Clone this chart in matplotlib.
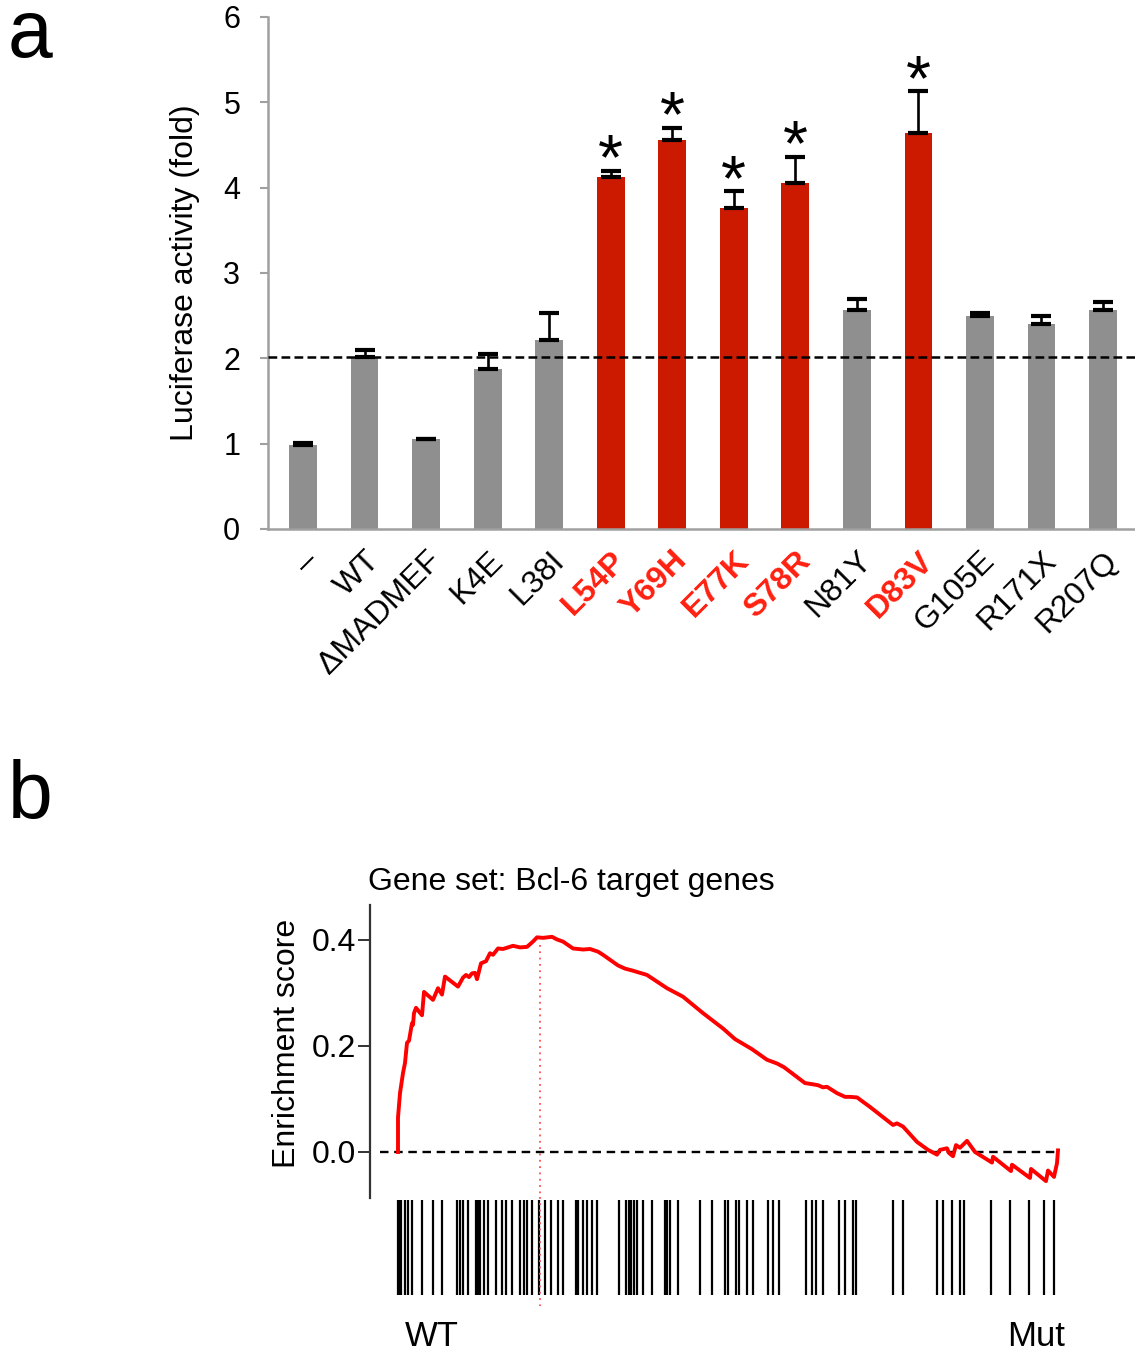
import matplotlib
matplotlib.use("Agg")
import matplotlib.pyplot as plt
import numpy as np

plt.rcParams['font.family'] = ['Liberation Sans', 'DejaVu Sans']

# ---------------- Panel a data ----------------
categories = ["\u2013", "WT", "\u0394MADMEF", "K4E", "L38I", "L54P", "Y69H", "E77K",
              "S78R", "N81Y", "D83V", "G105E", "R171X", "R207Q"]
luciferase = [0.99, 2.02, 1.05, 1.88, 2.21, 4.12, 4.56, 3.76, 4.05, 2.57, 4.64, 2.50, 2.40, 2.57]
error_top = [1.01, 2.10, 1.06, 2.05, 2.53, 4.20, 4.70, 3.96, 4.36, 2.70, 5.13, 2.53, 2.50, 2.66]
significant = [False, False, False, False, False, True, True, True, True, False, True, False, False, False]
wt_level = 2.02
yticks_a = [0, 1, 2, 3, 4, 5, 6]

# ---------------- Panel b data ----------------
es_rank = [0, 0, 2, 5, 7, 9, 11, 14, 15, 16, 18, 24, 26, 35, 40, 44, 47, 60, 65, 68,
           71, 74, 77, 79, 83, 88, 92, 95, 100, 105, 115, 122, 129, 135, 139, 145, 154, 159, 165, 175,
           185, 192, 200, 205, 220, 227, 235, 242, 249, 269, 285, 305, 325, 337, 354, 369, 379, 386, 407, 414,
           420, 425, 429, 439, 447, 452, 459, 472, 495, 499, 505, 519, 530, 539, 542, 549, 551, 555, 558, 562,
           569, 577, 594, 595, 613, 614, 632, 633, 648, 650, 656, 659, 660]
es_score = [0.000, 0.065, 0.111, 0.149, 0.168, 0.206, 0.210, 0.243, 0.240, 0.262,
            0.272, 0.258, 0.302, 0.287, 0.309, 0.297, 0.331, 0.312, 0.329, 0.334,
            0.330, 0.337, 0.338, 0.326, 0.356, 0.360, 0.375, 0.372, 0.384, 0.383,
            0.389, 0.386, 0.387, 0.397, 0.405, 0.404, 0.406, 0.401, 0.397, 0.384,
            0.382, 0.383, 0.378, 0.372, 0.352, 0.346, 0.342, 0.338, 0.334, 0.309,
            0.293, 0.262, 0.233, 0.213, 0.194, 0.174, 0.167, 0.160, 0.130, 0.128,
            0.126, 0.122, 0.123, 0.111, 0.104, 0.104, 0.103, 0.085, 0.051, 0.054,
            0.048, 0.019, 0.004, -0.005, 0.004, 0.007, -0.002, -0.008, 0.013, 0.008,
            0.021, 0.000, -0.020, -0.009, -0.036, -0.024, -0.049, -0.032, -0.055, -0.035,
            -0.047, -0.021, 0.003]
hit_rank = [0, 1, 3, 7, 10, 14, 24, 35, 44, 59, 62, 65, 70, 78, 80, 82, 86, 90, 98, 104,
            108, 114, 122, 126, 129, 134, 141, 147, 153, 160, 165, 178, 180, 185, 189, 194, 199,
            221, 228, 231, 233, 236, 239, 245, 254, 267, 269, 272, 280, 302, 314, 327, 330, 338,
            341, 349, 355, 370, 375, 381, 408, 414, 418, 425, 441, 447, 455, 458, 495, 505, 539,
            545, 554, 562, 566, 593, 612, 631, 646, 656]
peak_rank = 142
yticks_b = [0.0, 0.2, 0.4]
yticklabels_b = ["0.0", "0.2", "0.4"]

W, H = 1135, 1353
fig = plt.figure(figsize=(W / 100, H / 100), dpi=100)

GRAY = '#8f8f8f'
RED = '#cc1a00'
LABEL_RED = '#ff2010'
AX_GRAY = '#a0a0a0'

# ---------------- Panel a ----------------
axa = fig.add_axes([268 / W, (H - 529) / H, (W - 268) / W, 512 / H])
x = np.arange(len(categories))
colors = [RED if s else GRAY for s in significant]
upper = [t - v for t, v in zip(error_top, luciferase)]
axa.bar(x, luciferase, width=0.45, color=colors, zorder=2)
axa.errorbar(x, luciferase, yerr=[np.zeros(len(x)), upper], fmt='none', ecolor='black',
             elinewidth=1.9, capsize=7.5, capthick=3.0, zorder=3)
axa.axhline(wt_level, color='black', lw=1.8, ls=(0, (3.5, 1.7)), zorder=4)
for i, s in enumerate(significant):
    if s:
        axa.annotate('*', (x[i], error_top[i]), xytext=(0, 6), textcoords='offset points',
                     ha='center', va='center', fontsize=46, color='black')
axa.set_xlim(-0.57, 13.52)
axa.set_ylim(0, 6)
axa.set_yticks(yticks_a)
axa.set_yticklabels([str(v) for v in yticks_a], fontsize=22)
axa.tick_params(axis='y', length=6, width=1.5, color=AX_GRAY, pad=14)
axa.tick_params(axis='x', length=0, pad=12)
axa.set_xticks(x)
axa.set_xticklabels(categories, rotation=45, ha='right', rotation_mode='anchor', fontsize=23)
for lab, s in zip(axa.get_xticklabels(), significant):
    if s:
        lab.set_color(LABEL_RED)
        lab.set_fontweight('bold')
for sp in ['top', 'right']:
    axa.spines[sp].set_visible(False)
for sp in ['left', 'bottom']:
    axa.spines[sp].set_color(AX_GRAY)
    axa.spines[sp].set_linewidth(1.8)
axa.set_ylabel('Luciferase activity (fold)', fontsize=23)
axa.yaxis.set_label_coords(-0.078, 0.5)

fig.text(8 / W, (H - 57) / H, 'a', fontsize=58, ha='left', va='baseline')
fig.text(8 / W, (H - 818) / H, 'b', fontsize=58, ha='left', va='baseline')

# ---------------- Panel b ----------------
x0, x1 = -28, 677
axb = fig.add_axes([370 / W, (H - 1198) / H, (1075 - 370) / W, 293 / H])
axb.plot(es_rank, es_score, color='#ff0000', lw=2.8, zorder=3)
axb.plot([-18, 660], [0, 0], color='black', lw=1.7, ls=(0, (3.6, 2.4)), zorder=2)
axb.plot([peak_rank, peak_rank], [0.39, -0.0868], color='#ff5050', lw=1.3, ls=(0, (1, 2.5)), zorder=1)
axb.set_xlim(x0, x1)
axb.set_ylim(-0.0868, 0.466)
axb.set_yticks(yticks_b)
axb.set_yticklabels(yticklabels_b, fontsize=23)
axb.tick_params(axis='y', length=9, width=1.4, color='#333333', pad=1)
axb.set_xticks([])
for sp in ['top', 'right', 'bottom']:
    axb.spines[sp].set_visible(False)
axb.spines['left'].set_color('#333333')
axb.spines['left'].set_linewidth(1.6)
axb.set_ylabel('Enrichment score', fontsize=23)
axb.yaxis.set_label_coords(-0.096, 0.526)

fig.text(368 / W, (H - 890) / H, 'Gene set: Bcl-6 target genes', fontsize=23,
         ha='left', va='baseline')

axh = fig.add_axes([370 / W, (H - 1295) / H, (1075 - 370) / W, 95 / H])
axh.vlines(hit_rank, 0, 1, color='black', lw=1.6)
axh.plot([peak_rank, peak_rank], [1.03, -0.12], color='#ff5050', lw=1.3,
         ls=(0, (1, 2.5)), clip_on=False)
axh.set_xlim(x0, x1)
axh.set_ylim(0, 1)
axh.axis('off')

fig.text(432 / W, 0.5 / H, 'WT', fontsize=25, ha='center', va='bottom')
fig.text(1036 / W, 0.5 / H, 'Mut', fontsize=25, ha='center', va='bottom')

fig.savefig('out.png', dpi=100)
